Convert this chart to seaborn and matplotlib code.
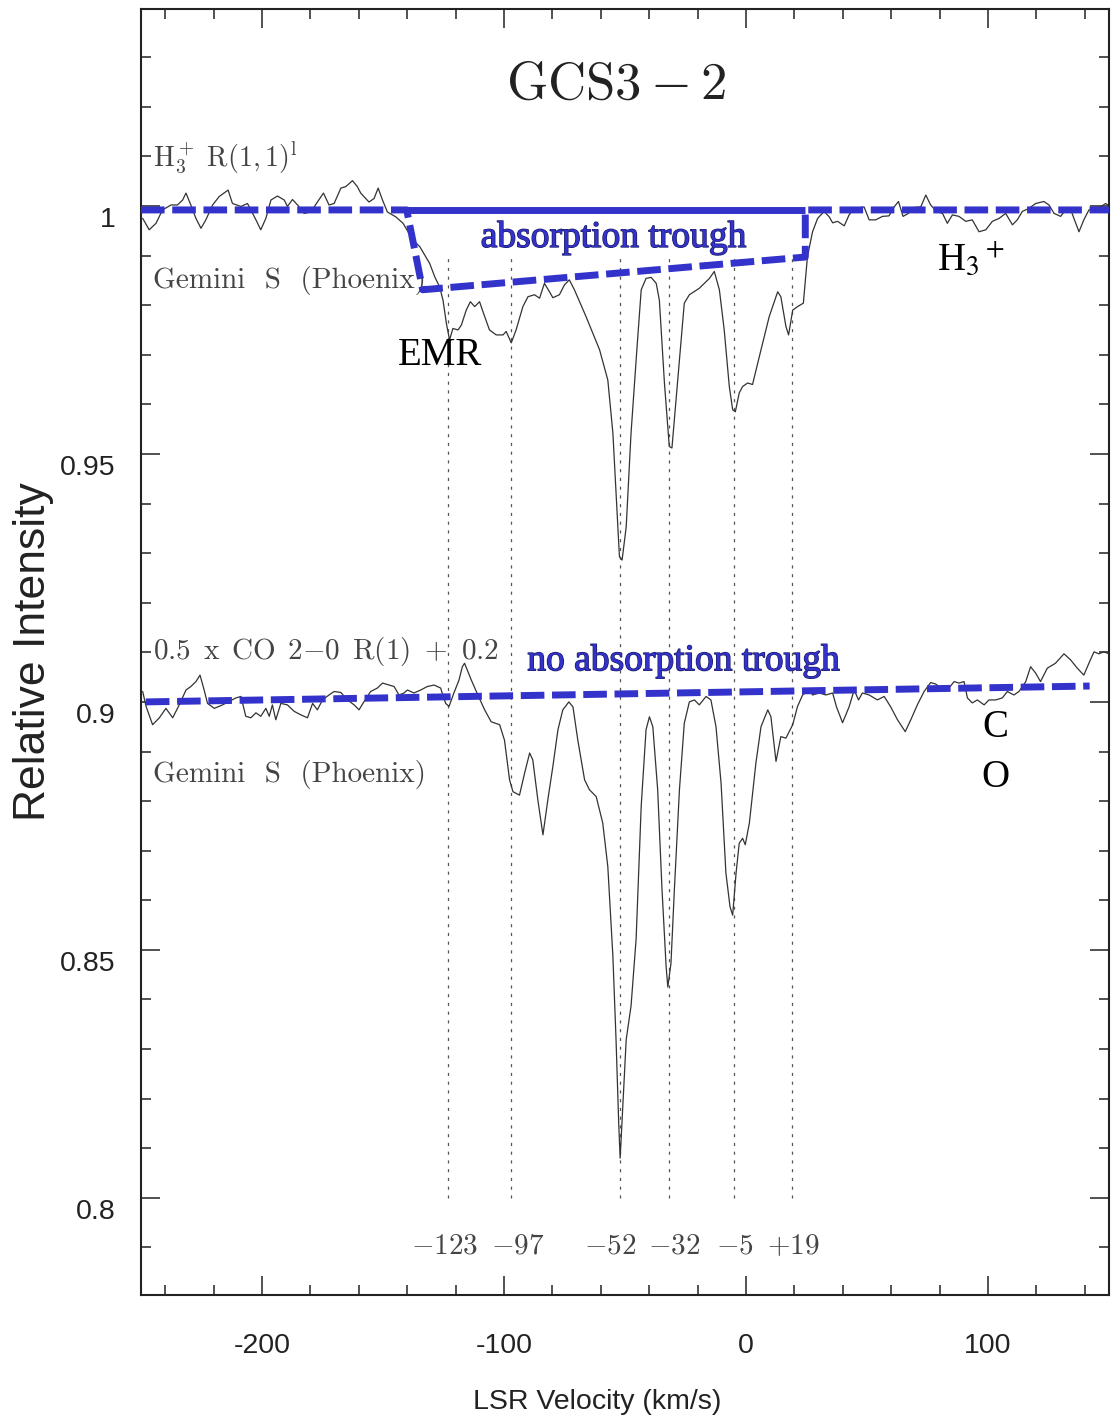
import matplotlib
matplotlib.use("Agg")
import numpy as np
import pandas as pd
import matplotlib.pyplot as plt
import matplotlib.patheffects as pe
from matplotlib.ticker import MultipleLocator, FuncFormatter
from matplotlib.transforms import ScaledTranslation
import seaborn as sns

# H3+ R(1,1)l spectrum (LSR velocity km/s, relative intensity)
h3_velocity = [
    -249.3, -246.6, -243.8, -241.1, -237.6, -234.9, -232.8, -231.4, -229.4, -227.3,
    -225.2, -223.2, -220.4, -217.7, -214.0, -212.2, -208.7, -206.0, -204.6, -202.5,
    -200.5, -198.4, -196.3, -193.6, -190.8, -189.5, -187.4, -185.3, -182.6, -179.8,
    -177.1, -174.6, -172.3, -170.2, -167.4, -165.4, -162.6, -160.6, -159.2, -155.8,
    -153.7, -152.0, -150.2, -148.2, -144.7,
    -141.7, -137.6, -134.8, -130.7, -128.6, -126.6, -125.2, -123.8, -122.5, -121.1,
    -119.0, -117.6, -115.6, -113.9, -112.1, -110.1, -108.7, -106.0, -103.2, -100.4,
    -99.1, -97.0, -95.0, -92.2, -90.1, -87.4, -85.3, -83.3, -81.2, -79.8,
    -77.1, -75.0, -73.0, -70.9, -66.1, -60.5, -57.1, -55.0, -53.7, -52.3,
    -51.2, -49.5, -47.5, -45.1, -43.3, -41.3, -39.2, -37.1, -35.8, -33.7,
    -31.7, -30.6, -28.9, -25.5, -23.4, -19.3, -15.1, -13.1, -11.0, -9.0,
    -6.9, -5.5, -4.4, -2.8, -1.4, 0.7, 2.7, 6.2, 9.6, 13.1,
    14.4, 16.5, 17.6, 19.3, 21.3, 23.7, 25.4,
    27.5, 29.6, 32.3, 34.4, 35.8, 37.8, 40.6, 42.6, 44.7, 48.8,
    50.9, 53.6, 56.4, 59.1, 61.2, 63.0, 64.9, 67.1, 69.5, 72.2,
    74.3, 76.3, 78.7, 81.2, 83.2, 85.3, 88.0, 90.8, 93.5, 96.3,
    99.1, 101.8, 104.6, 107.3, 110.1, 112.1, 114.2, 116.9, 119.7, 123.1,
    125.2, 127.3, 130.0, 132.1, 134.1, 135.5, 137.6, 139.6, 141.7, 144.5,
    146.5, 148.6, 150.0,
]
h3_intensity = [
    0.9975, 0.9952, 0.9965, 0.9992, 1.0002, 1.0002, 1.0012, 1.0026, 1.0002, 0.9975,
    0.9955, 0.9972, 1.0002, 1.0019, 1.0032, 1.0005, 0.9999, 1.0005, 0.9992, 0.9972,
    0.9952, 0.9975, 1.0012, 1.0020, 1.0012, 0.9999, 1.0013, 1.0002, 0.9985, 0.9988,
    1.0008, 1.0026, 1.0002, 1.0005, 1.0036, 1.0039, 1.0051, 1.0039, 1.0026, 1.0008,
    1.0015, 1.0036, 1.0012, 0.9988, 0.9978,
    0.9965, 0.9931, 0.9918, 0.9884, 0.9857, 0.9837, 0.9810, 0.9763, 0.9730, 0.9753,
    0.9750, 0.9760, 0.9790, 0.9807, 0.9797, 0.9807, 0.9787, 0.9750, 0.9740, 0.9740,
    0.9747, 0.9724, 0.9750, 0.9797, 0.9817, 0.9821, 0.9814, 0.9844, 0.9827, 0.9815,
    0.9821, 0.9841, 0.9851, 0.9831, 0.9777, 0.9710, 0.9649, 0.9542, 0.9421, 0.9293,
    0.9286, 0.9353, 0.9542, 0.9710, 0.9831, 0.9854, 0.9856, 0.9844, 0.9810, 0.9643,
    0.9515, 0.9512, 0.9609, 0.9804, 0.9821, 0.9834, 0.9854, 0.9868, 0.9831, 0.9750,
    0.9636, 0.9589, 0.9585, 0.9623, 0.9636, 0.9643, 0.9640, 0.9710, 0.9777, 0.9827,
    0.9817, 0.9757, 0.9740, 0.9790, 0.9797, 0.9804, 0.9898,
    0.9948, 0.9975, 0.9989, 0.9978, 0.9966, 0.9969, 0.9960, 0.9982, 0.9995, 0.9998,
    0.9972, 0.9972, 0.9979, 0.9980, 0.9998, 1.0009, 0.9979, 0.9985, 0.9997, 0.9998,
    1.0022, 1.0002, 0.9989, 0.9985, 0.9965, 0.9982, 0.9979, 0.9969, 0.9972, 0.9948,
    0.9952, 0.9969, 0.9975, 0.9985, 0.9962, 0.9972, 0.9989, 0.9995, 1.0005, 1.0009,
    1.0002, 0.9985, 0.9979, 0.9992, 0.9994, 0.9975, 0.9948, 0.9972, 0.9992, 0.9995,
    0.9998, 1.0005, 1.0000,
]

# 0.5 x CO 2-0 R(1) + 0.2 spectrum
co_velocity = [
    -249.3, -247.9, -245.2, -242.4, -239.7, -236.9, -234.2, -231.4, -229.4, -227.3,
    -225.6, -223.9, -222.5, -219.7, -216.3, -213.5, -210.8, -208.7, -206.7, -204.6,
    -202.5, -200.5, -198.4, -197.0, -195.7, -194.3, -192.2, -189.5, -186.7, -184.0,
    -181.2, -179.1, -177.1, -175.0, -172.3, -170.2, -167.4, -164.7, -161.9, -159.9,
    -157.8, -155.1, -152.3, -150.2, -147.5, -145.4, -143.4, -141.3, -139.9, -137.2,
    -134.4, -131.7, -128.9, -126.2, -124.1, -122.7, -120.7, -118.6, -117.2, -116.3,
    -113.5, -110.8, -108.0, -105.3, -101.8, -99.8, -97.7, -96.3, -93.6, -91.5,
    -89.4, -88.1, -86.0, -83.9, -81.9, -79.8, -77.7, -75.7, -73.2, -71.5,
    -69.5, -66.7, -64.7, -61.9, -59.2, -57.1, -55.0, -53.7, -52.6, -52.0,
    -50.9, -49.5, -47.5, -45.4, -43.3, -41.3, -39.9, -38.5, -36.5, -34.7,
    -33.0, -32.3, -31.0, -29.6, -27.5, -25.5, -23.4, -21.3, -19.3, -16.5,
    -14.5, -12.4, -10.3, -8.3, -6.6, -5.5, -4.1, -2.8, -1.4, -0.3,
    1.4, 4.1, 6.2, 9.0, 10.3, 12.4, 14.4, 16.5, 19.3, 21.3,
    23.4, 26.1,
    27.5, 30.3, 33.0, 35.8, 37.4, 39.9, 42.6, 44.7, 46.5, 48.1,
    50.9, 54.3, 57.1, 59.8, 62.6, 65.8, 68.1, 70.8, 73.6, 76.3,
    78.4, 80.5, 83.2, 86.0, 88.0, 90.1, 91.5, 93.5, 95.6, 98.4,
    100.4, 103.2, 105.9, 108.0, 110.7, 112.8, 115.6, 117.6, 119.7, 121.7,
    124.5, 127.9, 131.4, 134.1, 136.9, 139.6, 141.7, 143.8, 145.8, 147.9,
    150.0,
]
co_intensity = [
    0.9021, 0.8991, 0.8954, 0.8968, 0.8987, 0.8968, 0.8994, 0.9024, 0.9031, 0.9041,
    0.9054, 0.9024, 0.8997, 0.8987, 0.8994, 0.9001, 0.9008, 0.9011, 0.8971, 0.8968,
    0.8978, 0.8971, 0.8987, 0.8971, 0.8994, 0.8964, 0.8997, 0.8994, 0.8981, 0.8974,
    0.8968, 0.8997, 0.8984, 0.9004, 0.9014, 0.9021, 0.9019, 0.9004, 0.8994, 0.8984,
    0.9001, 0.9021, 0.9028, 0.9038, 0.9034, 0.9031, 0.9014, 0.9018, 0.9024, 0.9018,
    0.9024, 0.9031, 0.9034, 0.9028, 0.8997, 0.8991, 0.9018, 0.9044, 0.9071, 0.9078,
    0.9044, 0.9014, 0.8984, 0.8960, 0.8954, 0.8923, 0.8843, 0.8819, 0.8812, 0.8856,
    0.8897, 0.8883, 0.8802, 0.8732, 0.8802, 0.8870, 0.8944, 0.8984, 0.9000, 0.8990,
    0.8923, 0.8843, 0.8823, 0.8809, 0.8756, 0.8668, 0.8487, 0.8319, 0.8151, 0.8080,
    0.8185, 0.8319, 0.8387, 0.8522, 0.8790, 0.8944, 0.8970, 0.8950, 0.8823, 0.8621,
    0.8466, 0.8425, 0.8473, 0.8621, 0.8823, 0.8957, 0.9000, 0.9004, 0.8994, 0.9011,
    0.9004, 0.8950, 0.8836, 0.8655, 0.8587, 0.8570, 0.8655, 0.8715, 0.8725, 0.8712,
    0.8756, 0.8877, 0.8950, 0.8984, 0.8970, 0.8880, 0.8930, 0.8927, 0.8954, 0.8991,
    0.9014, 0.9024,
    0.9014, 0.9018, 0.9014, 0.9018, 0.8990, 0.8958, 0.8990, 0.9024, 0.9004, 0.9018,
    0.9014, 0.9004, 0.9011, 0.8990, 0.8964, 0.8940, 0.8964, 0.8994, 0.9021, 0.9039,
    0.9036, 0.9028, 0.9024, 0.9041, 0.9038, 0.9041, 0.9008, 0.8998, 0.9004, 0.8994,
    0.9004, 0.9004, 0.9008, 0.9021, 0.9014, 0.9021, 0.9041, 0.9071, 0.9058, 0.9041,
    0.9068, 0.9078, 0.9097, 0.9085, 0.9068, 0.9054, 0.9078, 0.9101, 0.9097, 0.9101,
    0.9097,
]

# velocity components marked with dotted lines
component_velocities = [-123, -97, -52, -32, -5, 19]
component_labels = [r"$-123$", r"$-97$", r"$-52$", r"$-32$", r"$-5$", r"$+19$"]
label_nudge_px = [-4, 6, -10, 6, 1, 1]

# blue guide lines drawn over the spectra
trough_top_v = [-140.2, 24.5]
trough_top_i = [0.9992, 0.9992]
h3_guide_v = [-250, -140.2, -133.6, 24.5, 24.5, 150]
h3_guide_i = [0.9992, 0.9992, 0.9831, 0.9897, 0.9992, 0.9992]
co_guide_v = [-248, 142]
co_guide_i = [0.9000, 0.9032]

blue = "#3333cc"
gray = "#444444"
ink = "#222222"

sns.set_theme(style="ticks")
plt.rcParams["font.family"] = ["Liberation Sans", "DejaVu Sans"]
plt.rcParams["axes.unicode_minus"] = False

fig = plt.figure(figsize=(11.11, 14.18), dpi=100)
ax = fig.add_axes([0.1269, 0.0867, 0.8713, 0.9069])

spec = pd.concat([
    pd.DataFrame({"v": h3_velocity, "I": h3_intensity, "line": "H3+"}),
    pd.DataFrame({"v": co_velocity, "I": co_intensity, "line": "CO"}),
])
sns.lineplot(data=spec, x="v", y="I", units="line", estimator=None, sort=False,
             color="#333333", lw=0.9, ax=ax)

# dotted markers for the velocity components
ax.vlines(component_velocities, 0.8, 0.9895, colors="#555555",
          linestyles=(0, (2.5, 4.5)), lw=0.9, zorder=1)
for v, lab, dx in zip(component_velocities, component_labels, label_nudge_px):
    ax.annotate(lab, (v, 0.7903), xytext=(dx, 0), textcoords="offset pixels",
                ha="center", va="center", fontsize=21, color=gray,
                math_fontfamily="cm")

# trough / continuum guides
ax.plot(h3_guide_v, h3_guide_i, color=blue, lw=5, dashes=(3.4, 1.1), zorder=4)
ax.plot(trough_top_v, trough_top_i, color=blue, lw=5, zorder=4, solid_capstyle="butt")
ax.plot(co_guide_v, co_guide_i, color=blue, lw=5, dashes=(3.4, 1.1), zorder=4)

# gray labels of the original plot
ax.text(-245, 1.0099, r"$\mathrm{H}_3^+\ \mathrm{R(1,1)}^{\mathrm{l}}$", fontsize=20,
        color=gray, va="center", ha="left", math_fontfamily="cm")
ax.text(-245, 0.9849, "Gemini  S  (Phoenix)", family="cmr10", fontsize=21,
        color=gray, va="center", ha="left")
ax.text(-245, 0.9101, r"$\mathrm{0.5\ \,x\ \,CO\ \,2{-}0\ \,R(1)\ +\ 0.2}$",
        fontsize=21, color=gray, va="center", ha="left", math_fontfamily="cm")
ax.text(-245, 0.8853, "Gemini  S  (Phoenix)", family="cmr10", fontsize=21,
        color=gray, va="center", ha="left")
ax.text(0.491, 0.941, r"$\mathrm{GCS3-2}$", transform=ax.transAxes, fontsize=38,
        color=ink, ha="center", va="center", math_fontfamily="cm")

# annotations
stroke = [pe.withStroke(linewidth=1.0, foreground="#1a1a66")]
ax.text(-54.8, 0.99365, "absorption trough", family="Liberation Serif", fontsize=27,
        color=blue, ha="center", va="center", path_effects=stroke, zorder=5)
ax.text(-25.9, 0.9083, "no absorption trough", family="Liberation Serif", fontsize=27,
        color=blue, ha="center", va="center", path_effects=stroke, zorder=5)
ax.text(-126.6, 0.9699, "EMR", family="Liberation Serif", fontsize=28,
        color="black", ha="center", va="center")
ax.text(78.8, 0.9871, r"H$_3$$^+$", family="Liberation Serif", fontsize=28,
        color="black", ha="left", va="baseline", math_fontfamily="stix")
for letter, yy in zip(["C", "O"], [0.8949, 0.8847]):
    ax.text(103.1, yy, letter, family="Liberation Serif", fontsize=28,
            color="black", ha="center", va="center")

# axes
ax.set_xlim(-250, 150)
ax.set_ylim(0.7804, 1.0397)
ax.xaxis.set_major_locator(MultipleLocator(100))
ax.xaxis.set_minor_locator(MultipleLocator(20))
ax.yaxis.set_major_locator(MultipleLocator(0.05))
ax.yaxis.set_minor_locator(MultipleLocator(0.01))
ax.yaxis.set_major_formatter(FuncFormatter(lambda y, p: f"{y:g}"))
ax.tick_params(which="both", direction="in", top=True, right=True,
               width=1.1, color=ink, labelcolor=ink)
ax.tick_params(which="major", length=14)
ax.tick_params(which="minor", length=7)
ax.tick_params(axis="x", which="major", pad=27, labelsize=20.5)
ax.tick_params(axis="y", which="major", pad=18, labelsize=20.5)
for sp in ax.spines.values():
    sp.set_linewidth(1.5)
    sp.set_color(ink)

ax.set_xlabel("LSR Velocity (km/s)", fontsize=20.5, color=ink)
ax.xaxis.set_label_coords(0.471, -0.073)
ax.set_ylabel("Relative Intensity", fontsize=32, color=ink)
ax.yaxis.set_label_coords(-0.09, 0.5)

# y tick labels sit a little below their ticks in the original
fig.canvas.draw()
shift = ScaledTranslation(0, -0.11, fig.dpi_scale_trans)
for tick in ax.yaxis.get_major_ticks():
    tick.label1.set_transform(tick.label1.get_transform() + shift)

fig.savefig("out.png", dpi=100)
